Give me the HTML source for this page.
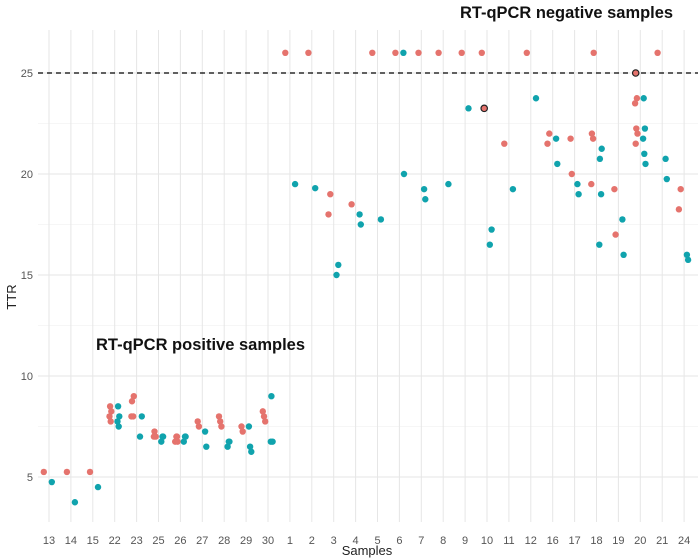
<!DOCTYPE html>
<html><head><meta charset="utf-8"><style>
body{margin:0;background:#fff}
svg{display:block;font-family:"Liberation Sans",sans-serif}
</style></head><body>
<svg id="chart" width="700" height="560"></svg>
<script>
const categories=["13","14","15","22","23","25","26","27","28","29","30","1","2","3","4","5","6","7","8","9","10","11","12","16","17","18","19","20","21","24"];
const yTicks=[5,10,15,20,25];
const threshold=25;
// red series: [category, TTR]
const redCats=["13","14","15","22","22","22","22","23","23","23","23","25","25","25","26","26","26","26","27","27","28","28","28","29","29","30","30","30",
"1","2","5","6","7","8","9","10","12","18","21",
"3","3","4","10","11","16","16","17","17","18","18","18","19","19","20","20","20","20","20","20","24","24"];
const redVals=[5.25,5.25,5.25,8.5,8.25,8,7.75,9,8.75,8,8,7.25,7,7,7,6.75,7,6.75,7.75,7.5,8,7.75,7.5,7.5,7.25,8.25,8,7.75,
26,26,26,26,26,26,26,26,26,26,26,
19,18,18.5,23.25,21.5,22,21.5,21.75,20,22,21.75,19.5,19.25,17,25,23.75,23.5,22.25,22,21.5,19.25,18.25];
const redOutlined=[false,false,false,false,false,false,false,false,false,false,false,false,false,false,false,false,false,false,false,false,false,false,false,false,false,false,false,false,
false,false,false,false,false,false,false,false,false,false,false,
false,false,false,true,false,false,false,false,false,false,false,false,false,false,true,false,false,false,false,false,false,false];
const tealCats=["13","14","15","22","22","22","22","23","23","25","25","25","26","26","26","27","27","28","28","28","29","29","29","30","30","30",
"6","1","2","3","3","4","4","5","6","7","7","8","9","10","10","11","12","16","16","17","17","18","18","18","18","19","19","20","20","20","20","20","21","21","24","24"];
const tealVals=[4.75,3.75,4.5,8.5,8,7.75,7.5,8,7,7,6.75,7,7,6.75,7,7.25,6.5,6.75,6.5,6.75,7.5,6.5,6.25,9,6.75,6.75,
26,19.5,19.3,15.5,15,18,17.5,17.75,20,19.25,18.75,19.5,23.25,17.25,16.5,19.25,23.75,21.75,20.5,19.5,19,21.25,20.75,19,16.5,17.75,16,23.75,22.25,21.75,21,20.5,20.75,19.75,16,15.75];

const NS="http://www.w3.org/2000/svg";
const svg=document.getElementById('chart');
const L=38,R=698,T=30,B=522;
const yMin=3.1,yMax=27.1;
function xs(c){return 49+categories.indexOf(c)*21.9;}
function ys(v){return 73+(25-v)*20.2;}
function mk(t,a){const e=document.createElementNS(NS,t);for(const k in a)e.setAttribute(k,a[k]);svg.appendChild(e);return e;}

// minor horizontal grid
for(let v=7.5;v<yMax;v+=5){const l=mk('line',{x1:L,x2:R,y1:ys(v),y2:ys(v),stroke:'#f3f3f3','stroke-width':0.8});

}
yTicks.forEach(v=>{const l=mk('line',{x1:L,x2:R,y1:ys(v),y2:ys(v),stroke:'#e6e6e6','stroke-width':1});


const t=mk('text',{x:33,y:ys(v)+4,'text-anchor':'end','font-size':11,fill:'#555'});t.textContent=v;

});
categories.forEach(c=>{const l=mk('line',{x1:xs(c),x2:xs(c),y1:T,y2:B,stroke:'#e6e6e6','stroke-width':1});


const t=mk('text',{x:xs(c),y:544,'text-anchor':'middle','font-size':11,fill:'#555'});t.textContent=c;

});

const th=mk('line',{x1:L,x2:R,y1:ys(threshold),y2:ys(threshold),stroke:'#000','stroke-width':1.2,'stroke-dasharray':'5,4'});



function jit(i){return ((i*7)%5-2)*0.6;}
redVals.forEach((v,i)=>{const a={cx:xs(redCats[i])-4+jit(i),cy:ys(v),r:3.2,fill:'#e5736d'};
if(redOutlined[i]){a.stroke='#222';a['stroke-width']=1.2;}
const p=mk('circle',a);

});
tealVals.forEach((v,i)=>{const p=mk('circle',{cx:xs(tealCats[i])+4+jit(i),cy:ys(v),r:3.2,fill:'#10a3ad'});

});

const a1=mk('text',{x:96,y:350,'font-size':17,'font-weight':'bold',fill:'#111',textLength:209,lengthAdjust:'spacingAndGlyphs'});a1.textContent='RT-qPCR positive samples';


const a2=mk('text',{x:460,y:18,'font-size':17,'font-weight':'bold',fill:'#111',textLength:213,lengthAdjust:'spacingAndGlyphs'});a2.textContent='RT-qPCR negative samples';


const xt=mk('text',{x:367,y:555,'text-anchor':'middle','font-size':13,fill:'#222'});xt.textContent='Samples';


const yt=mk('text',{x:0,y:0,'text-anchor':'middle','font-size':13,fill:'#222',transform:'translate(16,297) rotate(-90)'});yt.textContent='TTR';


</script>
</body></html>
